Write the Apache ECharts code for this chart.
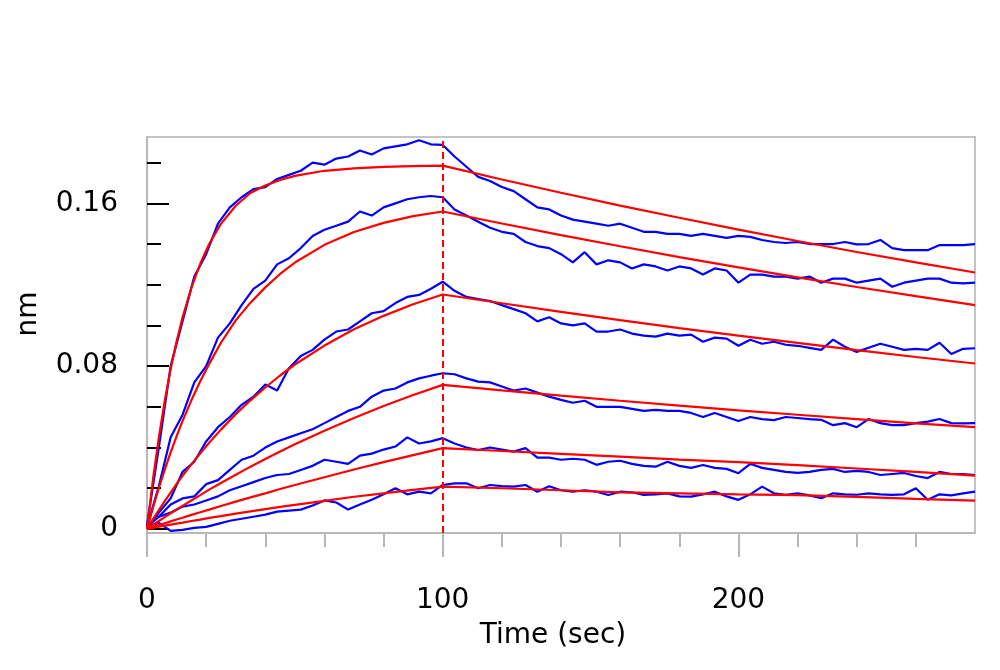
<!DOCTYPE html>
<html>
<head>
<meta charset="utf-8">
<script src="https://cdn.jsdelivr.net/npm/echarts@6/dist/echarts.min.js"></script>
<style>
html,body{margin:0;padding:0;background:#fff;}
#chart{width:1000px;height:670px;}
</style>
</head>
<body>
<div id="chart"></div>
<script>
// ---------- data ----------
var xAxisTitle = 'Time (sec)';
var yAxisTitle = 'nm';
var dissociationStart = 100;

var xMajorTicks = [0, 100, 200];
var xMinorTicks = [0, 20, 40, 60, 80, 100, 120, 140, 160, 180, 200, 220, 240, 260];
var yMajorTicks = [0, 0.08, 0.16];
var yMinorTicks = [0, 0.02, 0.04, 0.06, 0.08, 0.10, 0.12, 0.14, 0.16, 0.18];

// measured sensorgram sample times (s)
var rawTimes = [0,4,8,12,16,20,24,28,32,36,40,44,48,52,56,60,64,68,72,76,80,84,88,92,96,100,
  104,108,112,116,120,124,128,132,136,140,144,148,152,156,160,164,168,172,176,180,184,188,192,196,200,
  204,208,212,216,220,224,228,232,236,240,244,248,252,256,260,264,268,272,276,280];

// measured responses (blue)
var raw1 = [0.002,0.040,0.080,0.102,0.124,0.135,0.150,0.158,0.163,0.167,0.168,0.172,0.174,0.176,0.180,0.179,0.182,0.183,0.186,0.184,0.187,0.188,0.189,0.191,0.189,0.1887,
  0.183,0.178,0.173,0.171,0.168,0.166,0.162,0.158,0.157,0.154,0.152,0.151,0.150,0.149,0.150,0.148,0.146,0.146,0.145,0.145,0.144,0.145,0.144,0.143,0.144,
  0.1435,0.142,0.141,0.1405,0.141,0.140,0.140,0.140,0.141,0.1398,0.140,0.142,0.138,0.137,0.137,0.137,0.1395,0.1395,0.1395,0.140];
var raw2 = [0.001,0.021,0.045,0.056,0.072,0.080,0.094,0.101,0.110,0.118,0.122,0.130,0.133,0.138,0.144,0.147,0.149,0.151,0.156,0.154,0.158,0.160,0.162,0.163,0.1636,0.163,
  0.157,0.154,0.151,0.148,0.146,0.145,0.141,0.139,0.138,0.135,0.131,0.136,0.130,0.132,0.131,0.128,0.130,0.129,0.127,0.129,0.128,0.125,0.128,0.127,0.121,
  0.125,0.125,0.124,0.124,0.123,0.124,0.121,0.123,0.123,0.121,0.122,0.123,0.119,0.121,0.122,0.123,0.123,0.121,0.1207,0.121];
var raw3 = [0.000,0.008,0.015,0.028,0.033,0.043,0.050,0.055,0.061,0.065,0.071,0.068,0.079,0.085,0.088,0.093,0.097,0.098,0.102,0.106,0.107,0.111,0.114,0.115,0.118,0.1215,
  0.117,0.114,0.113,0.112,0.110,0.108,0.106,0.102,0.104,0.101,0.100,0.101,0.097,0.097,0.098,0.096,0.095,0.0945,0.096,0.095,0.0955,0.092,0.094,0.0935,0.090,
  0.093,0.091,0.092,0.0905,0.090,0.089,0.088,0.093,0.0895,0.087,0.089,0.091,0.0895,0.088,0.0885,0.088,0.0915,0.086,0.0885,0.0888];
var raw4 = [0.002,0.006,0.012,0.015,0.016,0.022,0.024,0.029,0.034,0.036,0.040,0.043,0.045,0.047,0.049,0.052,0.055,0.058,0.060,0.065,0.068,0.069,0.072,0.074,0.0753,0.0765,
  0.076,0.074,0.0724,0.072,0.070,0.068,0.069,0.067,0.065,0.0634,0.062,0.063,0.060,0.060,0.060,0.059,0.058,0.0585,0.058,0.058,0.057,0.055,0.057,0.055,0.053,
  0.055,0.054,0.0535,0.055,0.0545,0.054,0.0536,0.051,0.052,0.050,0.054,0.052,0.051,0.051,0.052,0.0527,0.054,0.052,0.0519,0.052];
var raw5 = [0.001,0.006,0.008,0.011,0.012,0.014,0.016,0.019,0.021,0.023,0.025,0.0265,0.027,0.029,0.031,0.034,0.033,0.032,0.036,0.037,0.039,0.0405,0.045,0.042,0.043,0.0446,
  0.042,0.040,0.0388,0.040,0.039,0.038,0.0397,0.035,0.035,0.034,0.0345,0.034,0.0315,0.033,0.0335,0.032,0.031,0.0306,0.033,0.031,0.030,0.0314,0.030,0.0295,0.0274,
  0.032,0.030,0.029,0.028,0.0275,0.028,0.029,0.0295,0.028,0.0285,0.028,0.0265,0.027,0.0275,0.026,0.025,0.028,0.027,0.027,0.0265];
var raw6 = [0.001,0.003,-0.001,-0.0005,0.0005,0.001,0.0025,0.004,0.005,0.006,0.007,0.0085,0.009,0.0095,0.0115,0.014,0.013,0.0095,0.012,0.0143,0.017,0.020,0.017,0.0183,0.0175,0.0216,
  0.0224,0.0224,0.020,0.0216,0.021,0.0208,0.0216,0.0183,0.021,0.019,0.0183,0.019,0.0183,0.0167,0.0183,0.018,0.0167,0.017,0.0175,0.016,0.0159,0.017,0.0183,0.016,0.0143,
  0.017,0.0208,0.0175,0.0167,0.0175,0.0165,0.0151,0.0175,0.017,0.0168,0.0175,0.017,0.0167,0.017,0.020,0.0143,0.017,0.0165,0.0175,0.0183];

// global fit curves (red)
var fitTimes = [0,2,4,6,8,10,12,15,18,21,25,30,35,40,45,50,60,70,80,90,100,120,140,160,180,200,220,240,260,280];
var fit1 = [0,0.0241,0.0449,0.0630,0.0786,0.0921,0.1039,0.1185,0.1303,0.1400,0.1499,0.1588,0.1651,0.1688,0.1715,0.1735,0.1760,0.1772,0.1779,0.1783,0.1785,0.1717,0.1652,0.1589,0.1529,0.1471,0.1415,0.1361,0.1310,0.1260];
var fit2 = [0,0.0104,0.0201,0.0291,0.0376,0.0455,0.0530,0.0632,0.0726,0.0810,0.0915,0.1025,0.1112,0.1187,0.1253,0.1309,0.1396,0.1459,0.1504,0.1537,0.1560,0.1501,0.1444,0.1389,0.1336,0.1285,0.1236,0.1189,0.1144,0.1100];
var fit3 = [0,0.0047,0.0093,0.0137,0.0179,0.0221,0.0261,0.0317,0.0372,0.0423,0.0488,0.0564,0.0632,0.0695,0.0754,0.0808,0.0901,0.0981,0.1047,0.1104,0.1152,0.1109,0.1067,0.1026,0.0987,0.0950,0.0914,0.0879,0.0845,0.0813];
var fit4 = [0,0.0020,0.0039,0.0058,0.0077,0.0095,0.0113,0.0140,0.0166,0.0193,0.0226,0.0266,0.0306,0.0344,0.0380,0.0416,0.0483,0.0545,0.0604,0.0658,0.0708,0.0681,0.0655,0.0630,0.0606,0.0583,0.0561,0.0540,0.0519,0.0500];
var fit5 = [0,0.0009,0.0019,0.0028,0.0037,0.0046,0.0055,0.0069,0.0082,0.0095,0.0113,0.0134,0.0155,0.0175,0.0196,0.0216,0.0254,0.0292,0.0328,0.0363,0.0397,0.0383,0.0369,0.0355,0.0341,0.0328,0.0314,0.0297,0.0280,0.0262];
var fit6 = [0,0.0005,0.0011,0.0016,0.0021,0.0026,0.0031,0.0039,0.0046,0.0054,0.0063,0.0075,0.0086,0.0097,0.0108,0.0118,0.0138,0.0158,0.0175,0.0192,0.0208,0.0200,0.0190,0.0180,0.0175,0.0170,0.0166,0.0158,0.0148,0.0139];

// ---------- chart ----------
var FONT = 'DejaVu Sans';
var X_MIN = 0, X_MAX = 280, Y_MIN = -0.002, Y_MAX = 0.1926;

function pairs(ts, vs) { return ts.map(function (t, i) { return [t, vs[i]]; }); }

var rawSets = [raw1, raw2, raw3, raw4, raw5, raw6];
var fitSets = [fit1, fit2, fit3, fit4, fit5, fit6];
var series = [];
rawSets.forEach(function (vs, i) {
  series.push({
    name: 'Response ' + (i + 1), type: 'line', data: pairs(rawTimes, vs),
    showSymbol: false, lineStyle: { color: '#0000ff', width: 2.2 }, itemStyle: { color: '#0000ff' },
    z: 2, silent: true
  });
});
fitSets.forEach(function (vs, i) {
  var s = {
    name: 'Fit ' + (i + 1), type: 'line', data: pairs(fitTimes, vs),
    showSymbol: false, lineStyle: { color: '#ff0000', width: 2.2 }, itemStyle: { color: '#ff0000' },
    z: 3, silent: true
  };
  if (i === 0) {
    s.markLine = {
      silent: true, symbol: ['none', 'none'], label: { show: false },
      lineStyle: { color: '#ff0000', type: [7, 4], width: 2 },
      data: [{ xAxis: dissociationStart }]
    };
  }
  series.push(s);
});

var chart = echarts.init(document.getElementById('chart'), null, { renderer: 'canvas' });
chart.setOption({
  animation: false,
  backgroundColor: '#ffffff',
  grid: {
    left: 147, right: 25, top: 137, bottom: 137, containLabel: false,
    show: true, borderColor: '#c4c4c4', borderWidth: 2, backgroundColor: '#ffffff'
  },
  xAxis: [
    {
      type: 'value', min: X_MIN, max: X_MAX, position: 'bottom',
      axisLine: { show: true, onZero: false, lineStyle: { color: '#b8b8b8', width: 2 } },
      axisTick: { show: true, customValues: xMinorTicks, length: 14, lineStyle: { color: '#b8b8b8', width: 2 } },
      axisLabel: { show: false },
      splitLine: { show: false },
      name: xAxisTitle, nameLocation: 'middle', nameGap: 89,
      nameTextStyle: { fontFamily: FONT, fontSize: 28, color: '#000', padding: [0, 16, 0, 0] }
    },
    {
      type: 'value', min: X_MIN, max: X_MAX, position: 'bottom',
      axisLine: { show: false, onZero: false },
      axisTick: { show: true, customValues: xMajorTicks, length: 24, lineStyle: { color: '#b8b8b8', width: 2 } },
      axisLabel: { show: true, customValues: xMajorTicks, margin: 54, fontFamily: FONT, fontSize: 28, color: '#000' },
      splitLine: { show: false }
    }
  ],
  yAxis: [
    {
      type: 'value', min: Y_MIN, max: Y_MAX, position: 'left',
      axisLine: { show: true, onZero: false, lineStyle: { color: '#b8b8b8', width: 2 } },
      axisTick: { show: true, inside: true, customValues: yMinorTicks, length: 14, lineStyle: { color: '#000', width: 2 } },
      axisLabel: { show: false },
      splitLine: { show: false },
      name: yAxisTitle, nameLocation: 'middle', nameGap: 104, nameRotate: 90,
      nameTextStyle: { fontFamily: FONT, fontSize: 28, color: '#000', padding: [0, 0, 0, 42] }
    },
    {
      type: 'value', min: Y_MIN, max: Y_MAX, position: 'left',
      axisLine: { show: false, onZero: false },
      axisTick: { show: true, inside: true, customValues: yMajorTicks, length: 22, lineStyle: { color: '#000', width: 2 } },
      axisLabel: {
        show: true, customValues: yMajorTicks, margin: 29, fontFamily: FONT, fontSize: 28, color: '#000',
        formatter: function (v) { return v === 0 ? '0' : v.toFixed(2); }
      },
      splitLine: { show: false }
    }
  ],
  series: series
});
</script>
</body>
</html>
